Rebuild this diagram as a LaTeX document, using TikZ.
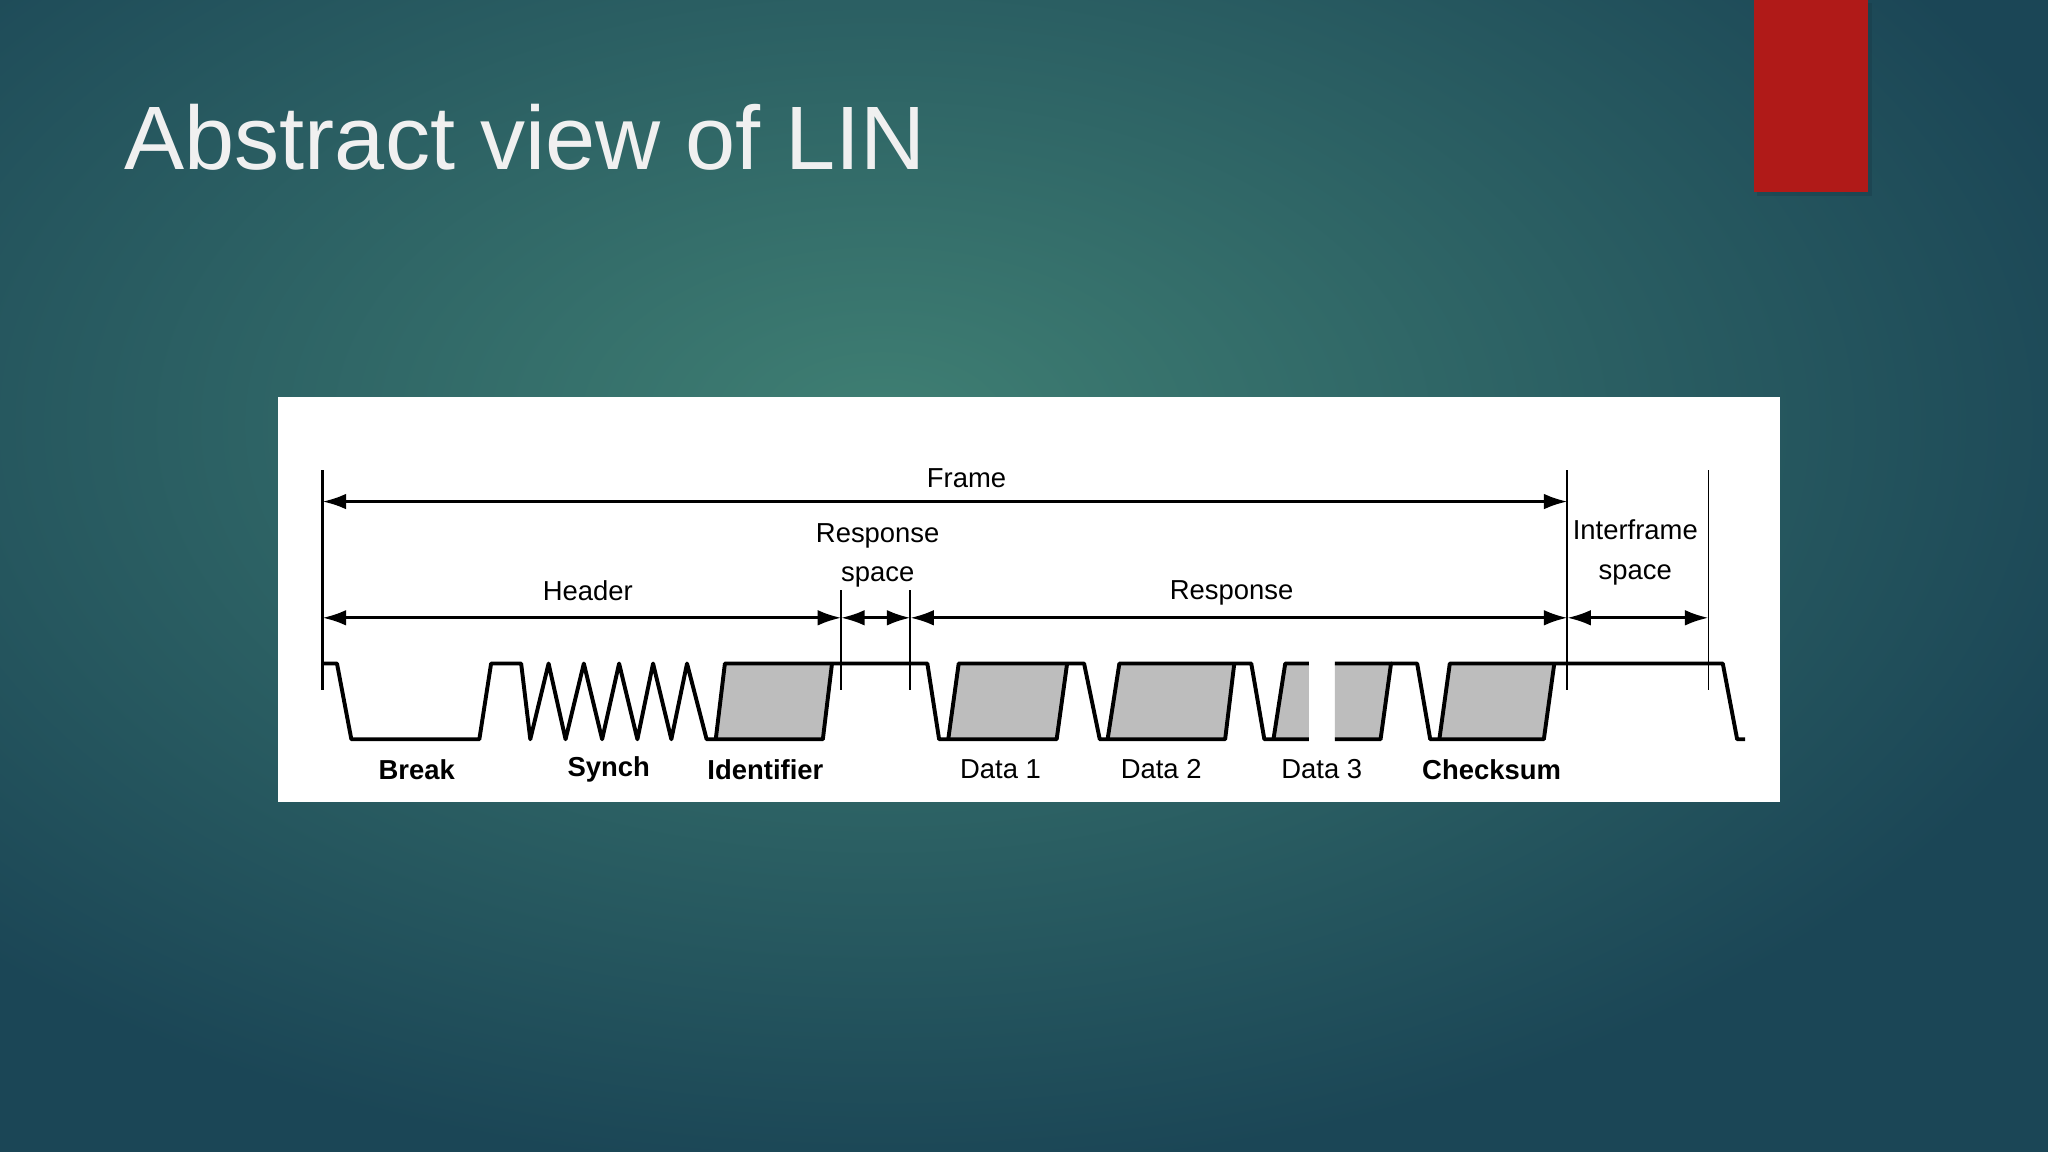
\documentclass[tikz,border=0pt]{standalone}
\usepackage{fontspec}
\setmainfont{Liberation Sans}
\usetikzlibrary{arrows.meta,shadows}
\definecolor{bgin}{HTML}{3F7F73}
\definecolor{bgout}{HTML}{1B4656}
\definecolor{redbox}{HTML}{B01A18}
\definecolor{sig}{HTML}{BDBDBD}
\definecolor{titlec}{HTML}{F0F0F0}
\begin{document}
\begin{tikzpicture}[x=0.5pt,y=-0.5pt,
  dim/.style={line width=1pt,{Latex[length=9pt,width=6pt]}-{Latex[length=9pt,width=6pt]}},
  guide/.style={line width=0.7pt},
  wave/.style={line width=1.5pt,line join=round},
  lbl/.style={font=\fontsize{10.5}{15}\selectfont},
  blbl/.style={font=\fontsize{10.5}{12}\selectfont\bfseries}]
\useasboundingbox (0,0) rectangle (1568,882);
\shade[inner color=bgin,outer color=bgout] (-300,-250) rectangle (1650,900);
\fill[bgout!80!black,opacity=0.35] (1345,2) rectangle (1433,150);
\fill[redbox] (1343,0) rectangle (1430,147);
\node[anchor=base west,text=titlec,font=\fontsize{34.5}{40}\selectfont,inner sep=0] (title) at (95,130) {Abstract view of LIN};
\fill[white] (213,304) rectangle (1363,614);
% guide lines
\coordinate (f0t) at (247,360); \coordinate (f0b) at (247,528);
\coordinate (f1t) at (1200,360); \coordinate (f1b) at (1200,528);
\coordinate (f2t) at (1308,360); \coordinate (f2b) at (1308,528);
\coordinate (r0t) at (644,452); \coordinate (r0b) at (644,528);
\coordinate (r1t) at (697,452); \coordinate (r1b) at (697,528);
\draw[guide,line width=1.1pt] (f0t) -- (f0b);
\draw[guide] (f1t) -- (f1b);
\draw[guide] (f2t) -- (f2b);
\draw[guide] (r0t) -- (r0b);
\draw[guide] (r1t) -- (r1b);
% dimension arrows
\coordinate (fa) at (247,384); \coordinate (fb) at (1200,384);
\draw[dim] (fa) -- (fb);
\coordinate (ha) at (247,473); \coordinate (hb) at (644,473);
\coordinate (hc) at (697,473); \coordinate (hd) at (1200,473); \coordinate (he) at (1308,473);
\draw[dim] (ha) -- (hb);
\draw[dim] (hb) -- (hc);
\draw[dim] (hc) -- (hd);
\draw[dim] (hd) -- (he);
\node[lbl] (frame) at (740,366) {Frame};
\node[lbl] (header) at (450,452) {Header};
\node[lbl] (resp) at (943,454) {Response};
\node[lbl,align=center] (rspace) at (672,425) {Response\\space};
\node[lbl,align=center] (ispace) at (1252,423) {Interframe\\space};
% gray fields
\fill[sig] (548,566) -- (555,508) -- (637,508) -- (630,566) -- cycle;
\fill[sig] (726,566) -- (734,508) -- (817,508) -- (809,566) -- cycle;
\fill[sig] (848,566) -- (857,508) -- (945,508) -- (938,566) -- cycle;
\fill[sig] (975,566) -- (984,508) -- (1002,508) -- (1002,566) -- cycle;
\fill[sig] (1022,566) -- (1022,508) -- (1065,508) -- (1057,566) -- cycle;
\fill[sig] (1102,566) -- (1110,508) -- (1190,508) -- (1182,566) -- cycle;
% waveform
\draw[wave] (247,508) -- (258,508) -- (269,566) -- (367,566) -- (376,508) -- (399,508)
 -- (406,566) -- (420,508) -- (433,566) -- (447,508) -- (461,566) -- (474,508)
 -- (488,566) -- (500,508) -- (514,566) -- (526,508) -- (541,566) -- (630,566) -- (637,508);
\draw[wave] (548,566) -- (555,508) -- (710,508) -- (719,566) -- (809,566) -- (817,508);
\draw[wave] (726,566) -- (734,508) -- (830,508) -- (842,566) -- (938,566) -- (945,508);
\draw[wave] (848,566) -- (857,508) -- (958,508) -- (968,566) -- (1002,566);
\draw[wave] (975,566) -- (984,508) -- (1002,508);
\draw[wave] (1022,508) -- (1065,508) -- (1057,566) -- (1022,566);
\draw[wave] (1065,508) -- (1085,508) -- (1095,566) -- (1182,566) -- (1190,508);
\draw[wave] (1102,566) -- (1110,508) -- (1319,508) -- (1330,566) -- (1336,566);
% labels
\node[blbl] (brk) at (319,589) {Break};
\node[blbl] (syn) at (466,589) {Synch};
\node[blbl] (idf) at (586,589) {Identifier};
\node[lbl] (d1) at (766,589) {Data 1};
\node[lbl] (d2) at (889,589) {Data 2};
\node[lbl] (d3) at (1012,589) {Data 3};
\node[blbl] (chk) at (1142,589) {Checksum};
\end{tikzpicture}
\end{document}
